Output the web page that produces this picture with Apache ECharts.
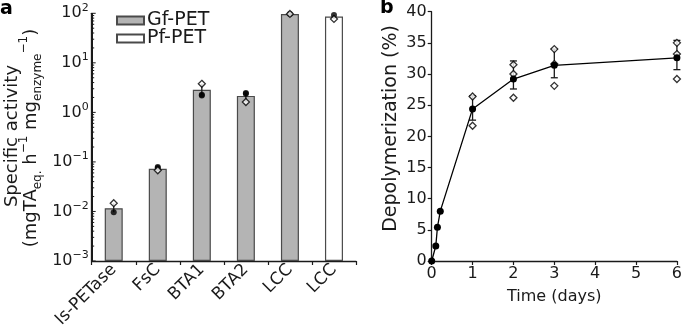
<!DOCTYPE html>
<html>
<head>
<meta charset="utf-8" />
<title>PET hydrolase activity</title>
<style>
  html, body { margin: 0; padding: 0; background: #fff; }
  #chart { width: 685px; height: 332px; }
</style>
</head>
<body>
<div id="chart"></div>
<script src="https://cdn.jsdelivr.net/npm/echarts@6/dist/echarts.min.js"></script>
<script>
var FONT = 'DejaVu Sans';
var INK = '#1a1a1a';

// panel a : specific activity (log scale)
var enzymes = ['Is-PETase', 'FsC', 'BTA1', 'BTA2', 'LCC', 'LCC'];
var gfActivity = [0.0116, 0.073, 2.85, 2.15, 97, '-'];
var pfActivity = ['-', '-', '-', '-', '-', 86];
var activityLow = [0.0096, 0.068, 2.26, 1.62, 96, 77];
var activityHigh = [0.0147, 0.079, 3.77, 2.45, 97, 92];
var activityOpen = [[0, 0.0147], [1, 0.068], [2, 3.77], [3, 1.62], [4, 97], [5, 77]];
var activityFilled = [[0, 0.0096], [1, 0.079], [1, 0.075], [2, 2.26], [2, 2.2], [3, 2.45], [3, 2.38], [4, 97], [5, 92]];
var decades = [0.001, 0.01, 0.1, 1, 10, 100];
var minorSteps = [2, 3, 4, 5, 6, 7, 8, 9];

// panel b : depolymerization over time
var days = [0, 0.1, 0.14, 0.21, 1, 2, 3, 6];
var depolMean = [0, 2.4, 5.4, 8.0, 24.4, 29.2, 31.4, 32.6];
var depolLow = ['-', '-', '-', '-', 22.6, 27.6, 29.4, 30.7];
var depolHigh = ['-', '-', '-', '-', 26.5, 32.1, 34.0, 35.4];
var depolReps = [[1, 26.4], [1, 21.7], [2, 31.5], [2, 30.0], [2, 26.2], [3, 34.0], [3, 31.6], [3, 28.1], [6, 35.0], [6, 33.2], [6, 29.2]];

// log axis ticks: [value, tick length]
var logAxisTicks = [];
decades.forEach(function (d, k) {
  logAxisTicks.push([d, 4]);
  if (k < decades.length - 1) {
    minorSteps.forEach(function (s) { logAxisTicks.push([d * s, 2.5]); });
  }
});

function powLabel(v) {
  var e = Math.round(Math.log(v) / Math.LN10);
  return '{b|10}{s|' + (e < 0 ? '\u2212' + (-e) : e) + '}';
}

function vLine(p1, p2, w) {
  return { type: 'line', shape: { x1: p1[0], y1: p1[1], x2: p2[0], y2: p2[1] }, style: { stroke: INK, lineWidth: w || 1.3 } };
}

var chart = echarts.init(document.getElementById('chart'));

var axisLine = { show: true, onZero: false, lineStyle: { color: INK, width: 1.3 } };
var tickOut = { show: true, length: 4, lineStyle: { color: INK, width: 1.2 } };
var labelBase = { color: INK, fontFamily: FONT, fontSize: 16 };

var option = {
  animation: false,
  textStyle: { fontFamily: FONT, color: INK },
  grid: [
    { left: 91.7, top: 13.3, width: 264.3, height: 247.7 },
    { left: 431.7, top: 11.7, width: 247.6, height: 249.3 }
  ],
  legend: {
    data: ['Gf-PET', 'Pf-PET'],
    orient: 'vertical',
    left: 116,
    top: 11,
    padding: 0,
    icon: 'rect',
    itemWidth: 27,
    itemHeight: 8,
    itemGap: -1,
    selectedMode: false,
    textStyle: { fontFamily: FONT, fontSize: 19, color: INK, padding: [0, 0, 0, -2] }
  },
  xAxis: [
    {
      type: 'category', gridIndex: 0, data: enzymes,
      axisLine: axisLine,
      axisTick: tickOut,
      axisLabel: Object.assign({ rotate: 45, interval: 0, margin: 6 }, labelBase, { fontSize: 17 })
    },
    {
      type: 'value', gridIndex: 1, min: 0, max: 6, interval: 1,
      name: 'Time (days)', nameLocation: 'middle', nameGap: 28,
      nameTextStyle: { fontFamily: FONT, fontSize: 16, color: INK },
      splitLine: { show: false },
      axisLine: axisLine,
      axisTick: tickOut,
      axisLabel: Object.assign({ margin: 5 }, labelBase)
    }
  ],
  yAxis: [
    {
      type: 'log', gridIndex: 0, logBase: 10, min: 0.001, max: 100, startValue: 0.001,
      splitLine: { show: false },
      axisLine: axisLine,
      axisTick: { show: false },
      axisLabel: {
        margin: 3,
        formatter: powLabel,
        rich: {
          b: { fontFamily: FONT, fontSize: 16, color: INK, lineHeight: 22 },
          s: { fontFamily: FONT, fontSize: 11, color: INK, lineHeight: 12, verticalAlign: 'top' }
        }
      }
    },
    {
      type: 'value', gridIndex: 1, min: 0, max: 40, interval: 5,
      splitLine: { show: false },
      axisLine: axisLine,
      axisTick: tickOut,
      axisLabel: Object.assign({ margin: 5 }, labelBase)
    }
  ],
  graphic: [
    { type: 'text', x: 0, y: 9, style: { text: 'a', fontFamily: FONT, fontWeight: 'bold', fontSize: 19, fill: '#000', verticalAlign: 'middle' } },
    { type: 'text', x: 380, y: 8, style: { text: 'b', fontFamily: FONT, fontWeight: 'bold', fontSize: 19, fill: '#000', verticalAlign: 'middle' } },
    { type: 'text', x: 12.5, y: 136, rotation: Math.PI / 2,
      style: { text: 'Specific activity', fontFamily: FONT, fontSize: 18, fill: INK, align: 'center', verticalAlign: 'middle' } },
    { type: 'text', x: 31, y: 138, rotation: Math.PI / 2,
      style: {
        text: '(mgTA{sb|eq.} h{sp|\u22121} mg{sb|enzyme}{sp|\u22121})',
        fontFamily: FONT, fontSize: 18, lineHeight: 26, fill: INK, align: 'center', verticalAlign: 'middle',
        rich: {
          sb: { fontFamily: FONT, fontSize: 12, lineHeight: 14, fill: INK, verticalAlign: 'bottom' },
          sp: { fontFamily: FONT, fontSize: 12, lineHeight: 14, fill: INK, verticalAlign: 'top' }
        }
      } },
    { type: 'text', x: 391, y: 128.5, rotation: Math.PI / 2,
      style: { text: 'Depolymerization (%)', fontFamily: FONT, fontSize: 19, fill: INK, align: 'center', verticalAlign: 'middle' } }
  ],
  series: [
    {
      name: 'Gf-PET', type: 'bar', xAxisIndex: 0, yAxisIndex: 0, data: gfActivity,
      barWidth: 18, barGap: '-100%',
      itemStyle: { color: '#b4b4b4', borderColor: '#4a4a4a', borderWidth: 1.2 }
    },
    {
      name: 'Pf-PET', type: 'bar', xAxisIndex: 0, yAxisIndex: 0, data: pfActivity,
      barWidth: 18, barGap: '-100%',
      itemStyle: { color: '#ffffff', borderColor: '#4a4a4a', borderWidth: 1.2 }
    },
    {
      type: 'custom', xAxisIndex: 0, yAxisIndex: 0, z: 5,
      data: enzymes.map(function (n, i) { return [i, activityLow[i], activityHigh[i]]; }),
      encode: { x: 0, y: [1, 2] },
      renderItem: function (params, api) {
        return vLine(api.coord([api.value(0), api.value(1)]), api.coord([api.value(0), api.value(2)]));
      }
    },
    {
      // spine plus major and minor ticks of the log axis, drawn inside
      type: 'custom', xAxisIndex: 0, yAxisIndex: 0, z: 10, silent: true,
      data: logAxisTicks.map(function (t) { return [0, t[0], t[1]]; }),
      encode: { x: 0, y: 1 },
      renderItem: function (params, api) {
        var cs = params.coordSys;
        var x0 = cs.x;
        var y = api.coord([0, api.value(1)])[1];
        var yTop = api.coord([0, decades[decades.length - 1]])[1];
        var yBot = api.coord([0, decades[0]])[1];
        return {
          type: 'group',
          children: [
            vLine([x0, y], [x0 + api.value(2), y], 1),
            { type: 'rect', shape: { x: x0 - 0.7, y: yTop, width: 1.4, height: yBot - yTop }, style: { fill: INK } }
          ]
        };
      }
    },
    {
      type: 'scatter', xAxisIndex: 0, yAxisIndex: 0, z: 6, data: activityFilled,
      symbol: 'circle', symbolSize: 6, itemStyle: { color: '#000' }
    },
    {
      type: 'scatter', xAxisIndex: 0, yAxisIndex: 0, z: 7, data: activityOpen,
      symbol: 'diamond', symbolSize: 7, itemStyle: { color: '#fff', borderColor: '#000', borderWidth: 1.3 }
    },
    {
      type: 'custom', xAxisIndex: 1, yAxisIndex: 1, z: 5,
      data: days.map(function (t, i) { return [t, depolLow[i], depolHigh[i]]; })
        .filter(function (d) { return d[1] !== '-'; }),
      encode: { x: 0, y: [1, 2] },
      renderItem: function (params, api) {
        var lo = api.coord([api.value(0), api.value(1)]);
        var hi = api.coord([api.value(0), api.value(2)]);
        var w = 3.5;
        return {
          type: 'group',
          children: [
            vLine(lo, hi),
            vLine([lo[0] - w, lo[1]], [lo[0] + w, lo[1]]),
            vLine([hi[0] - w, hi[1]], [hi[0] + w, hi[1]])
          ]
        };
      }
    },
    {
      type: 'scatter', xAxisIndex: 1, yAxisIndex: 1, z: 6, data: depolReps,
      symbol: 'diamond', symbolSize: 7, itemStyle: { color: '#fff', borderColor: '#000', borderWidth: 1.3 }
    },
    {
      type: 'line', xAxisIndex: 1, yAxisIndex: 1, z: 8,
      data: days.map(function (t, i) { return [t, depolMean[i]]; }),
      symbol: 'circle', symbolSize: 7, showAllSymbol: true,
      lineStyle: { color: '#000', width: 1.3 },
      itemStyle: { color: '#000' }
    }
  ]
};

chart.setOption(option);
</script>
</body>
</html>
